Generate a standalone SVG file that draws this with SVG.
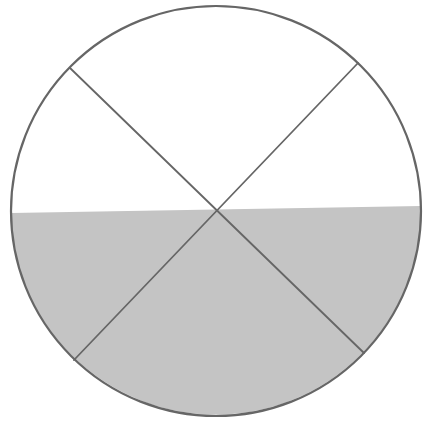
<svg xmlns="http://www.w3.org/2000/svg" width="425" height="423" viewBox="0 0 425 423">
<style>
.shade{fill:#c4c4c4;stroke:none}
.rim{fill:none;stroke:#666;stroke-width:2.2}
.ln{stroke:#666;stroke-width:1.8;fill:none;stroke-linecap:round}
</style>
<rect width="425" height="423" fill="#fff"/>
<path class="shade" d="M 420.94 206 A 205 205 0 1 1 11 213 Z"/>
<g id="lines">
<line class="ln" x1="70" y1="68" x2="364" y2="353"/>
<line class="ln" x1="358" y1="63" x2="74" y2="360"/>
</g>
<circle class="rim" cx="216" cy="211" r="205"/>
</svg>
